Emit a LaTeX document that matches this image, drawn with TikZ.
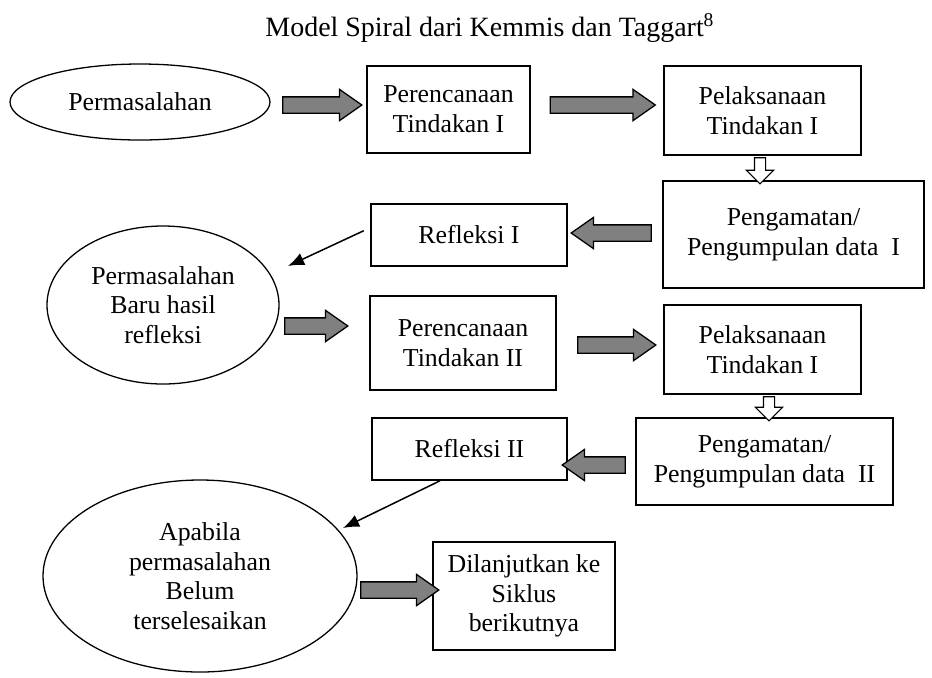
\documentclass[tikz,border=0pt]{standalone}
\usepackage{fontspec}
\setmainfont{Liberation Serif}
\usetikzlibrary{positioning,shapes.geometric,shapes.arrows,arrows.meta,calc}
\definecolor{fatgray}{HTML}{808080}
\newdimen\pxu
\pxu=0.465pt

\tikzset{
  box/.style={draw=black, line width=0.7pt, align=center, inner sep=0pt},
  oval/.style={ellipse, draw=black, line width=0.6pt, align=center, inner sep=0pt},
  fatarrow/.style={single arrow, fill=fatgray, draw=black, line width=0.6pt,
    inner xsep=0pt, inner ysep=7.5\pxu, single arrow head extend=7.5\pxu,
    single arrow tip angle=70, minimum height=#1\pxu},
  hollowarrow/.style={single arrow, fill=white, draw=black, line width=0.5pt,
    inner xsep=0pt, inner ysep=5\pxu, single arrow head extend=8\pxu,
    single arrow tip angle=90, minimum height=#1\pxu, rotate=-90},
  thinarrow/.style={-{Latex[length=7.5pt,width=6pt]}, line width=0.7pt}
}

\begin{document}
\begin{tikzpicture}[x=0.465pt, y=-0.465pt, font=\fontsize{12}{13.8}\selectfont]
      \useasboundingbox (0,0) rectangle (932,677);

      \node[font=\fontsize{13}{15}\selectfont] (title) at (490,28) {Model Spiral dari Kemmis dan Taggart\textsuperscript{8}};

      % first cycle
      \node[oval, minimum width=260\pxu, minimum height=76\pxu] (mas1) at (140,102) {Permasalahan};
      \node[box, minimum width=163\pxu, minimum height=87\pxu] (ren1) at (448.5,109.5) {Perencanaan\\Tindakan I};
      \node[box, minimum width=197\pxu, minimum height=89\pxu] (pel1) at (762.5,110.5) {Pelaksanaan\\Tindakan I};
      \node[box, minimum width=261\pxu, minimum height=107\pxu] (ama1) at (793.5,234.5) {Pengamatan/\\Pengumpulan data~ I};
      \node[box, minimum width=196\pxu, minimum height=62\pxu] (ref1) at (469,235) {Refleksi I};

      \node[fatarrow=79] (fa1) at (316.5,105) {};
      \node[fatarrow=105] (fa2) at (597,105) {};
      \node[hollowarrow=26] (ha1) at (760,168) {};
      \node[fatarrow=80, rotate=180] (fa3) at (617,233) {};

      % second cycle
      \node[oval, minimum width=232\pxu, minimum height=158\pxu] (mas2) at (163,305) {Permasalahan\\Baru hasil\\refleksi};
      \node[box, minimum width=186\pxu, minimum height=94\pxu] (ren2) at (463,343) {Perencanaan\\Tindakan II};
      \node[box, minimum width=197\pxu, minimum height=89\pxu] (pel2) at (762.5,349.5) {Pelaksanaan\\Tindakan I};
      \node[box, minimum width=257\pxu, minimum height=87\pxu] (ama2) at (764.5,461.5) {Pengamatan/\\Pengumpulan data~ II};
      \node[box, minimum width=195\pxu, minimum height=62\pxu] (ref2) at (469.5,449) {Refleksi II};

      \node[fatarrow=63] (fa4) at (310.5,326) {};
      \node[fatarrow=78] (fa5) at (611,345) {};
      \node[hollowarrow=24] (ha2) at (769,406) {};
      \node[fatarrow=63, rotate=180] (fa6) at (599.5,465) {};

      % end
      \node[oval, minimum width=314\pxu, minimum height=192\pxu] (mas3) at (200,576) {Apabila\\permasalahan\\Belum\\terselesaikan};
      \node[box, minimum width=182\pxu, minimum height=108\pxu] (lanjut) at (524,596) {Dilanjutkan ke\\Siklus\\berikutnya};
      \node[fatarrow=78] (fa7) at (394,590) {};

      \coordinate (end1) at (288,266);
      \coordinate (end2) at (343,528);
      \draw[thinarrow] ([xshift=-3pt,yshift=2pt]ref1.west) -- (end1);
      \draw[thinarrow] ($(ref2.south west)!0.35!(ref2.south east)$) -- (end2);
    \end{tikzpicture}
\end{document}
